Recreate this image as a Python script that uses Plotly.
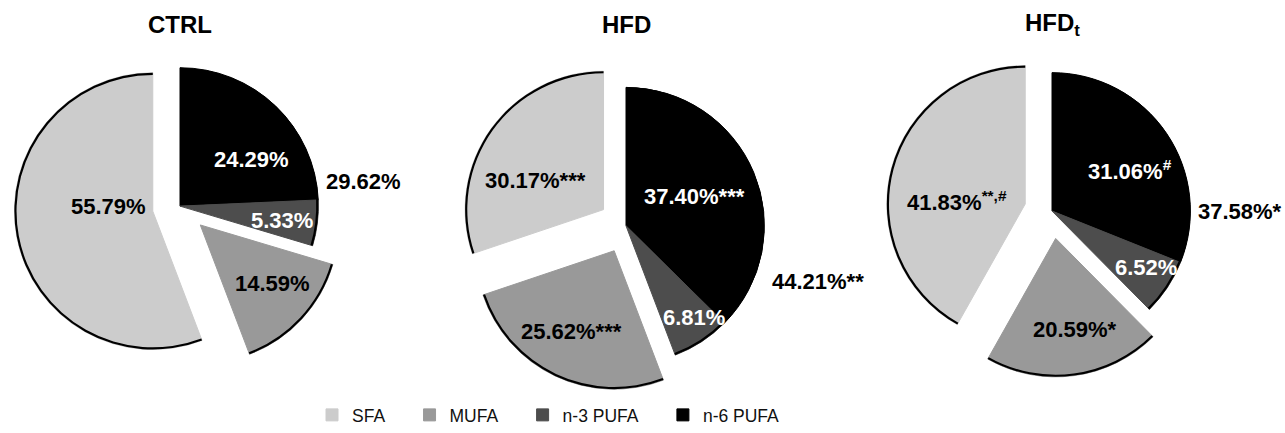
import math
import plotly.graph_objects as go

# Fatty-acid composition (% of total fatty acids) per diet group
groups = ["CTRL", "HFD", "HFD<sub>t</sub>"]
# slice order, clockwise from 12 o'clock
categories = ["n-6 PUFA", "n-3 PUFA", "MUFA", "SFA"]
n6_pufa = [24.29, 37.40, 31.06]
n3_pufa = [5.33, 6.81, 6.52]
mufa = [14.59, 25.62, 20.59]
sfa = [55.79, 30.17, 41.83]

# Significance marks appended to the labels
n6_marks = ["", "***", "<sup>#</sup>"]
n3_marks = ["", "", ""]
mufa_marks = ["", "***", "*"]
sfa_marks = ["", "***", "<sup>**,#</sup>"]
pufa_marks = ["", "**", "*"]

# ---- styling / layout ----
W, H = 1285, 433
FONT = "Liberation Sans, Arial, Helvetica, sans-serif"
colors = ["#000000", "#4d4d4d", "#999999", "#cccccc"]
label_colors = ["white", "white", "black", "black"]
pulls = [0.0, 0.0, 0.2, 0.2]           # PUFA kept together, MUFA and SFA pulled out
R = 141                                 # pie radius, px
centers = [(180, 210), (626, 230), (1052, 215)]   # pie centres, px
# label placement inside each slice: (fraction of radius, angular nudge in deg)
label_pos = [
    [(0.61, 13), (0.73, 1), (0.66, -3), (0.31, 17)],
    [(0.53, -1), (0.82, -3), (0.66, 2), (0.52, -12)],
    [(0.63, 6), (0.78, -2), (0.67, -4), (0.48, -12)],
]
pufa_dy = [-25, 57, 0]                  # vertical offset of total-PUFA label
title_y = 25
legend_pad = "\u00a0" * 4

fig = go.Figure()
annotations = []

for i, g in enumerate(groups):
    vals = [n6_pufa[i], n3_pufa[i], mufa[i], sfa[i]]
    marks = [n6_marks[i], n3_marks[i], mufa_marks[i], sfa_marks[i]]
    cx, cy = centers[i]
    side = 2 * R * (1 + max(pulls))
    dom = dict(
        x=[(cx - side / 2) / W, (cx + side / 2) / W],
        y=[1 - (cy + side / 2) / H, 1 - (cy - side / 2) / H],
    )
    common = dict(
        labels=[c + legend_pad for c in categories],
        values=vals, sort=False, direction="clockwise", rotation=0,
        pull=pulls, domain=dom, textposition="none",
    )
    # filled slices
    fig.add_trace(go.Pie(
        **common,
        marker=dict(colors=colors, line=dict(color=colors, width=1)),
        showlegend=(i == 0), hoverinfo="label+value",
    ))
    # thin black rim along the outer arc of every slice
    fig.add_trace(go.Pie(
        **common,
        hole=1 - 2.2 / R,
        marker=dict(colors=["black"] * 4, line=dict(width=0)),
        showlegend=False, hoverinfo="skip",
    ))

    # slice labels
    total = sum(vals)
    cum = 0.0
    for k, v in enumerate(vals):
        a = 360 * v / total
        bis = (cum + a / 2) % 360          # bearing of the slice bisector
        px = cx + pulls[k] * R * math.sin(math.radians(bis))
        py = cy - pulls[k] * R * math.cos(math.radians(bis))
        frac, nudge = label_pos[i][k]
        ang = math.radians(bis + nudge)
        lx = px + frac * R * math.sin(ang)
        ly = py - frac * R * math.cos(ang)
        annotations.append(dict(
            x=lx / W, y=1 - ly / H, xref="paper", yref="paper",
            text=f"{v:.2f}%{marks[k]}", showarrow=False,
            xanchor="center", yanchor="middle",
            font=dict(family=FONT, size=22, color=label_colors[k], weight="bold"),
        ))
        cum += a

    # total PUFA (n-6 + n-3) beside the PUFA block
    pufa_total = n6_pufa[i] + n3_pufa[i]
    annotations.append(dict(
        x=(cx + R + 3) / W, y=1 - (cy + pufa_dy[i]) / H, xref="paper", yref="paper",
        text=f"{pufa_total:.2f}%{pufa_marks[i]}", showarrow=False,
        xanchor="left", yanchor="middle",
        font=dict(family=FONT, size=22, color="black", weight="bold"),
    ))

    # group title
    annotations.append(dict(
        x=cx / W, y=1 - title_y / H, xref="paper", yref="paper",
        text=g, showarrow=False, xanchor="center", yanchor="middle",
        font=dict(family=FONT, size=24, color="black", weight="bold"),
    ))

fig.update_layout(
    width=W, height=H,
    margin=dict(l=0, r=0, t=0, b=0),
    paper_bgcolor="white", plot_bgcolor="white",
    annotations=annotations,
    showlegend=True,
    legend=dict(
        orientation="h", x=312 / W, xanchor="left", y=1 - 423 / H, yanchor="middle",
        font=dict(family=FONT, size=17.5, color="#111111"),
        traceorder="reversed", bgcolor="rgba(0,0,0,0)",
    ),
)

fig.write_html("out.html")
